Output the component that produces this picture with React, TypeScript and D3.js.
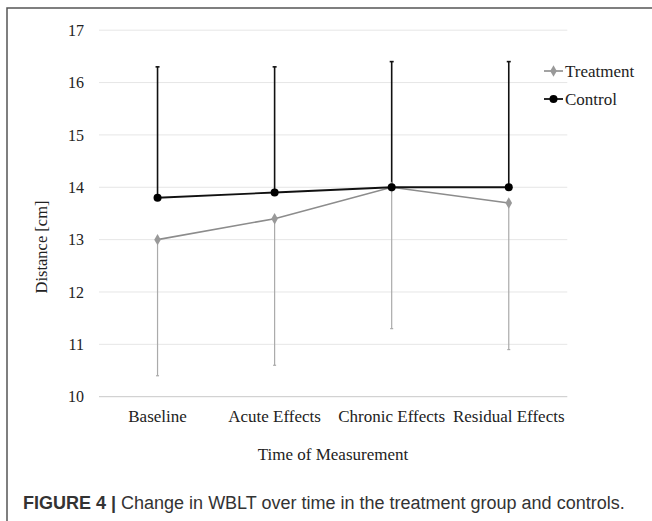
import React from "react";
import * as d3 from "d3";

const categories = ["Baseline", "Acute Effects", "Chronic Effects", "Residual Effects"];
const treatmentMean = [13.0, 13.4, 14.0, 13.7];
const treatmentLower = [10.4, 10.6, 11.3, 10.9];
const controlMean = [13.8, 13.9, 14.0, 14.0];
const controlUpper = [16.3, 16.3, 16.4, 16.4];
const yTicks = [10, 11, 12, 13, 14, 15, 16, 17];
const seriesNames = ["Treatment", "Control"];

const W = 652;
const H = 521;

export default function App() {
  const x = d3.scaleBand<string>().domain(categories).range([99, 567.3]);
  const y = d3.scaleLinear().domain([10, 17]).range([396.7, 30.2]);
  const cx = (c: string) => (x(c) ?? 0) + x.bandwidth() / 2;
  const line = d3
    .line<number>()
    .x((_, i) => cx(categories[i]))
    .y((v) => y(v));
  const diamond = d3.symbol().type(d3.symbolDiamond).size(38)();
  const serif = "'Liberation Serif', 'Times New Roman', serif";
  const sans = "'Liberation Sans', Arial, sans-serif";

  return (
    <svg width={W} height={H} style={{ position: "absolute", left: 0, top: 0 }}>
      <rect width={W} height={H} fill="#fff" />
      {/* frame */}
      <path d={`M7,${H} L7,8 L${W},8`} fill="none" stroke="#555" strokeWidth={1.5} />
      {/* gridlines */}
      {yTicks.map((t) => (
        <line
          key={t}
          x1={99}
          x2={567.3}
          y1={y(t)}
          y2={y(t)}
          stroke={t === 10 ? "#c8c8c8" : "#e6e6e6"}
          strokeWidth={1}
        />
      ))}
      {yTicks.map((t) => (
        <text
          key={"l" + t}
          x={84}
          y={y(t)}
          dy="0.35em"
          textAnchor="end"
          fontFamily={serif}
          fontSize={16}
          fill="#222"
        >
          {t}
        </text>
      ))}
      {categories.map((c) => (
        <text
          key={c}
          x={cx(c)}
          y={422}
          textAnchor="middle"
          fontFamily={serif}
          fontSize={17}
          fill="#222"
        >
          {c}
        </text>
      ))}
      <text x={333} y={460} textAnchor="middle" fontFamily={serif} fontSize={17} fill="#222">
        Time of Measurement
      </text>
      <text
        transform={`translate(47,247) rotate(-90)`}
        textAnchor="middle"
        fontFamily={serif}
        fontSize={16.5}
        fill="#222"
      >
        Distance [cm]
      </text>
      {/* treatment error bars */}
      {categories.map((c, i) => (
        <g key={"te" + c}>
          <line x1={cx(c)} x2={cx(c)} y1={y(treatmentMean[i])} y2={y(treatmentLower[i])} stroke="#aaa" strokeWidth={1.2} />
          <line x1={cx(c) - 1.5} x2={cx(c) + 1.5} y1={y(treatmentLower[i])} y2={y(treatmentLower[i])} stroke="#aaa" strokeWidth={1.2} />
        </g>
      ))}
      {/* control error bars */}
      {categories.map((c, i) => (
        <g key={"ce" + c}>
          <line x1={cx(c)} x2={cx(c)} y1={y(controlMean[i])} y2={y(controlUpper[i])} stroke="#111" strokeWidth={1.6} />
          <line x1={cx(c) - 2} x2={cx(c) + 2} y1={y(controlUpper[i])} y2={y(controlUpper[i])} stroke="#111" strokeWidth={1.6} />
        </g>
      ))}
      {/* treatment line */}
      <path d={line(treatmentMean) ?? ""} fill="none" stroke="#8c8c8c" strokeWidth={1.6} />
      {treatmentMean.map((v, i) => (
        <path key={"tm" + i} d={diamond ?? ""} transform={`translate(${cx(categories[i])},${y(v)})`} fill="#999" />
      ))}
      {/* control line */}
      <path d={line(controlMean) ?? ""} fill="none" stroke="#111" strokeWidth={1.8} />
      {controlMean.map((v, i) => (
        <circle key={"cm" + i} cx={cx(categories[i])} cy={y(v)} r={4} fill="#000" />
      ))}
      {/* legend */}
      {seriesNames.map((s, i) => {
        const ly = 71 + i * 28;
        const isT = i === 0;
        return (
          <g key={s}>
            <line x1={544} x2={563} y1={ly} y2={ly} stroke={isT ? "#8c8c8c" : "#111"} strokeWidth={isT ? 1.6 : 1.8} />
            {isT ? (
              <path d={diamond ?? ""} transform={`translate(553.5,${ly})`} fill="#999" />
            ) : (
              <circle cx={553.5} cy={ly} r={4} fill="#000" />
            )}
            <text x={565} y={ly} dy="0.35em" fontFamily={serif} fontSize={17} fill="#222">
              {s}
            </text>
          </g>
        );
      })}
      {/* caption */}
      <text x={23} y={509} fontFamily={sans} fontSize={18} fill="#333">
        <tspan fontWeight="bold">FIGURE 4 | </tspan>
        <tspan>Change in WBLT over time in the treatment group and controls.</tspan>
      </text>
    </svg>
  );
}
